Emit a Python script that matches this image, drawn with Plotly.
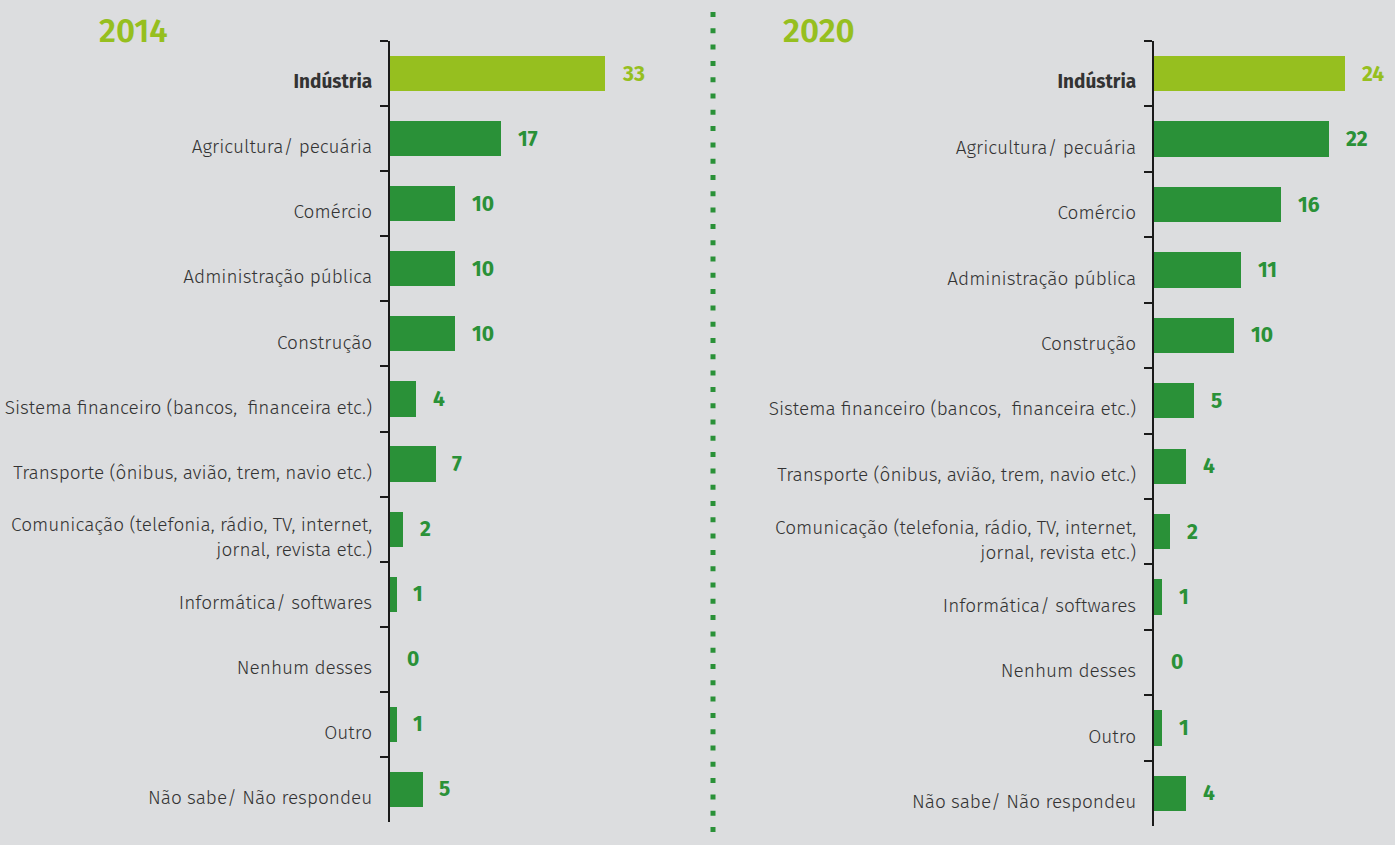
import plotly.graph_objects as go

categories = [
    "Indústria",
    "Agricultura/ pecuária",
    "Comércio",
    "Administração pública",
    "Construção",
    "Sistema financeiro (bancos,  financeira etc.)",
    "Transporte (ônibus, avião, trem, navio etc.)",
    "Comunicação (telefonia, rádio, TV, internet,<br>jornal, revista etc.)",
    "Informática/ softwares",
    "Nenhum desses",
    "Outro",
    "Não sabe/ Não respondeu",
]
values_2014 = [33, 17, 10, 10, 10, 4, 7, 2, 1, 0, 1, 5]
values_2020 = [24, 22, 16, 11, 10, 5, 4, 2, 1, 0, 1, 4]
years = ["2014", "2020"]

BG = "#dcdddf"
DARK = "#2a9138"
LIGHT = "#96bf1f"
FONT = "Fira Sans, Roboto, sans-serif"

W, H = 1395, 845
labels = ["<b>" + c + "</b>" if i == 0 else c for i, c in enumerate(categories)]
colors = [LIGHT if i == 0 else DARK for i in range(len(categories))]

fig = go.Figure()

panels = [
    dict(vals=values_2014, xa="x", ya="y", x0=390, x1=700, ppu=6.5, ytop=41, ybot=822, tx=97),
    dict(vals=values_2020, xa="x2", ya="y2", x0=1154, x1=1395, ppu=7.95, ytop=41, ybot=826, tx=781),
]

annotations = []
for p, yr in zip(panels, years):
    fig.add_trace(go.Bar(
        x=p["vals"], y=labels, orientation="h", xaxis=p["xa"], yaxis=p["ya"],
        marker=dict(color=colors, line=dict(width=0)), width=0.54,
        hoverinfo="x+y", showlegend=False,
    ))
    for lab, v, c in zip(labels, p["vals"], colors):
        annotations.append(dict(
            x=v, y=lab, xref=p["xa"], yref=p["ya"], text="<b>%d</b>" % v,
            showarrow=False, xanchor="left", yanchor="middle", xshift=15,
            font=dict(family=FONT, size=21, color=c),
        ))
    annotations.append(dict(
        x=p["tx"] / W, y=1 - 31 / H, xref="paper", yref="paper", text=yr,
        showarrow=False, xanchor="left", yanchor="middle",
        font=dict(family=FONT, size=33, color=LIGHT, weight=600),
    ))

def axes(p):
    width = p["x1"] - p["x0"]
    xa = dict(domain=[p["x0"] / W, p["x1"] / W], range=[0, width / p["ppu"]],
              visible=False, fixedrange=True)
    ya = dict(domain=[1 - p["ybot"] / H, 1 - p["ytop"] / H],
              type="category", categoryorder="array", categoryarray=labels,
              autorange="reversed",
              tickson="boundaries", ticks="outside", ticklen=8, tickwidth=2,
              tickcolor="#1a1a1a", showline=True, linecolor="#1a1a1a", linewidth=2,
              showgrid=False, zeroline=False, ticklabelstandoff=12,
              ticklabelshift=-8,
              tickfont=dict(family=FONT, size=19, color="#333333", weight=300),
              fixedrange=True)
    return xa, ya

xa1, ya1 = axes(panels[0])
xa2, ya2 = axes(panels[1])
ya2["anchor"] = "x2"
xa2["anchor"] = "y2"

fig.update_layout(
    width=W, height=H,
    paper_bgcolor=BG, plot_bgcolor=BG,
    margin=dict(l=0, r=0, t=0, b=0),
    xaxis=xa1, yaxis=ya1, xaxis2=xa2, yaxis2=ya2,
    annotations=annotations,
    bargap=0,
    shapes=[dict(type="line", xref="paper", yref="paper",
                 x0=713 / W, x1=713 / W, y0=1 - 832 / H, y1=1 - 9 / H,
                 line=dict(color=DARK, width=5, dash="5px,11.3px"))],
)

fig.write_html("out.html", config={"displayModeBar": False},
               post_script="document.body.style.margin='0';document.body.style.overflow='hidden';")
